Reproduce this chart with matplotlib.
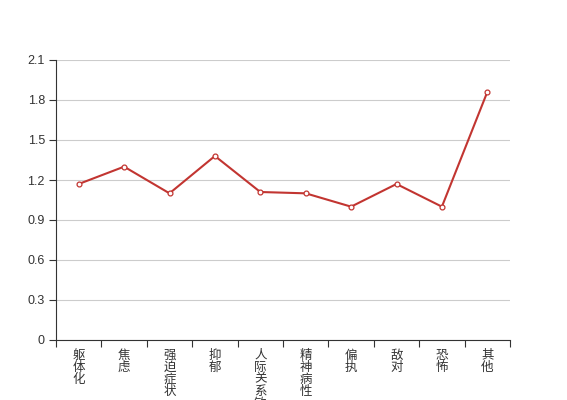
import matplotlib
matplotlib.use("Agg")
import matplotlib.pyplot as plt
from matplotlib.ticker import FixedLocator

plt.rcParams['font.family'] = ['Liberation Sans', 'Noto Sans CJK SC', 'DejaVu Sans']

categories = ["躯体化", "焦虑", "强迫症状", "抑郁", "人际关系敏感", "精神病性", "偏执", "敌对", "恐怖", "其他"]
values = [1.17, 1.30, 1.10, 1.38, 1.11, 1.10, 1.00, 1.17, 1.00, 1.86]
yticks = [0, 0.3, 0.6, 0.9, 1.2, 1.5, 1.8, 2.1]
ytick_labels = ["0", "0.3", "0.6", "0.9", "1.2", "1.5", "1.8", "2.1"]

W, H = 567, 400
fig = plt.figure(figsize=(W / 100, H / 100), dpi=100)
left, right, top, bottom = 56, 510, 60, 340
ax = fig.add_axes([left / W, 1 - bottom / H, (right - left) / W, (bottom - top) / H])

color = '#c23531'
x = list(range(len(categories)))
ax.plot(x, values, color=color, lw=1.5, marker='o', ms=3.5, mfc='white', mec=color, mew=0.9, zorder=3, clip_on=False)

ax.set_xlim(-0.5, len(categories) - 0.5)
ax.set_ylim(0, 2.1)
ax.set_yticks(yticks)
ax.set_yticklabels(ytick_labels)
ax.yaxis.grid(True, color='#cccccc', lw=0.8)
ax.set_axisbelow(True)

ax.xaxis.set_major_locator(FixedLocator([i - 0.5 for i in range(len(categories) + 1)]))
ax.set_xticklabels([])
ax.xaxis.set_minor_locator(FixedLocator(x))
ax.set_xticklabels(["\n".join(c) for c in categories], minor=True)
ax.tick_params(axis='x', which='minor', length=0, pad=7, labelsize=9, colors='#333333')
ax.tick_params(axis='x', which='major', length=5, width=0.8, color='#333333')
ax.tick_params(axis='y', length=5, width=0.8, color='#333333', labelsize=9, labelcolor='#333333', pad=3)
for lbl in ax.get_xticklabels(minor=True):
    lbl.set_linespacing(1.0)
    lbl.set_verticalalignment('top')

for s in ['top', 'right']:
    ax.spines[s].set_visible(False)
for s in ['left', 'bottom']:
    ax.spines[s].set_color('#333333')
    ax.spines[s].set_linewidth(0.8)

fig.savefig('out.png', dpi=100)
